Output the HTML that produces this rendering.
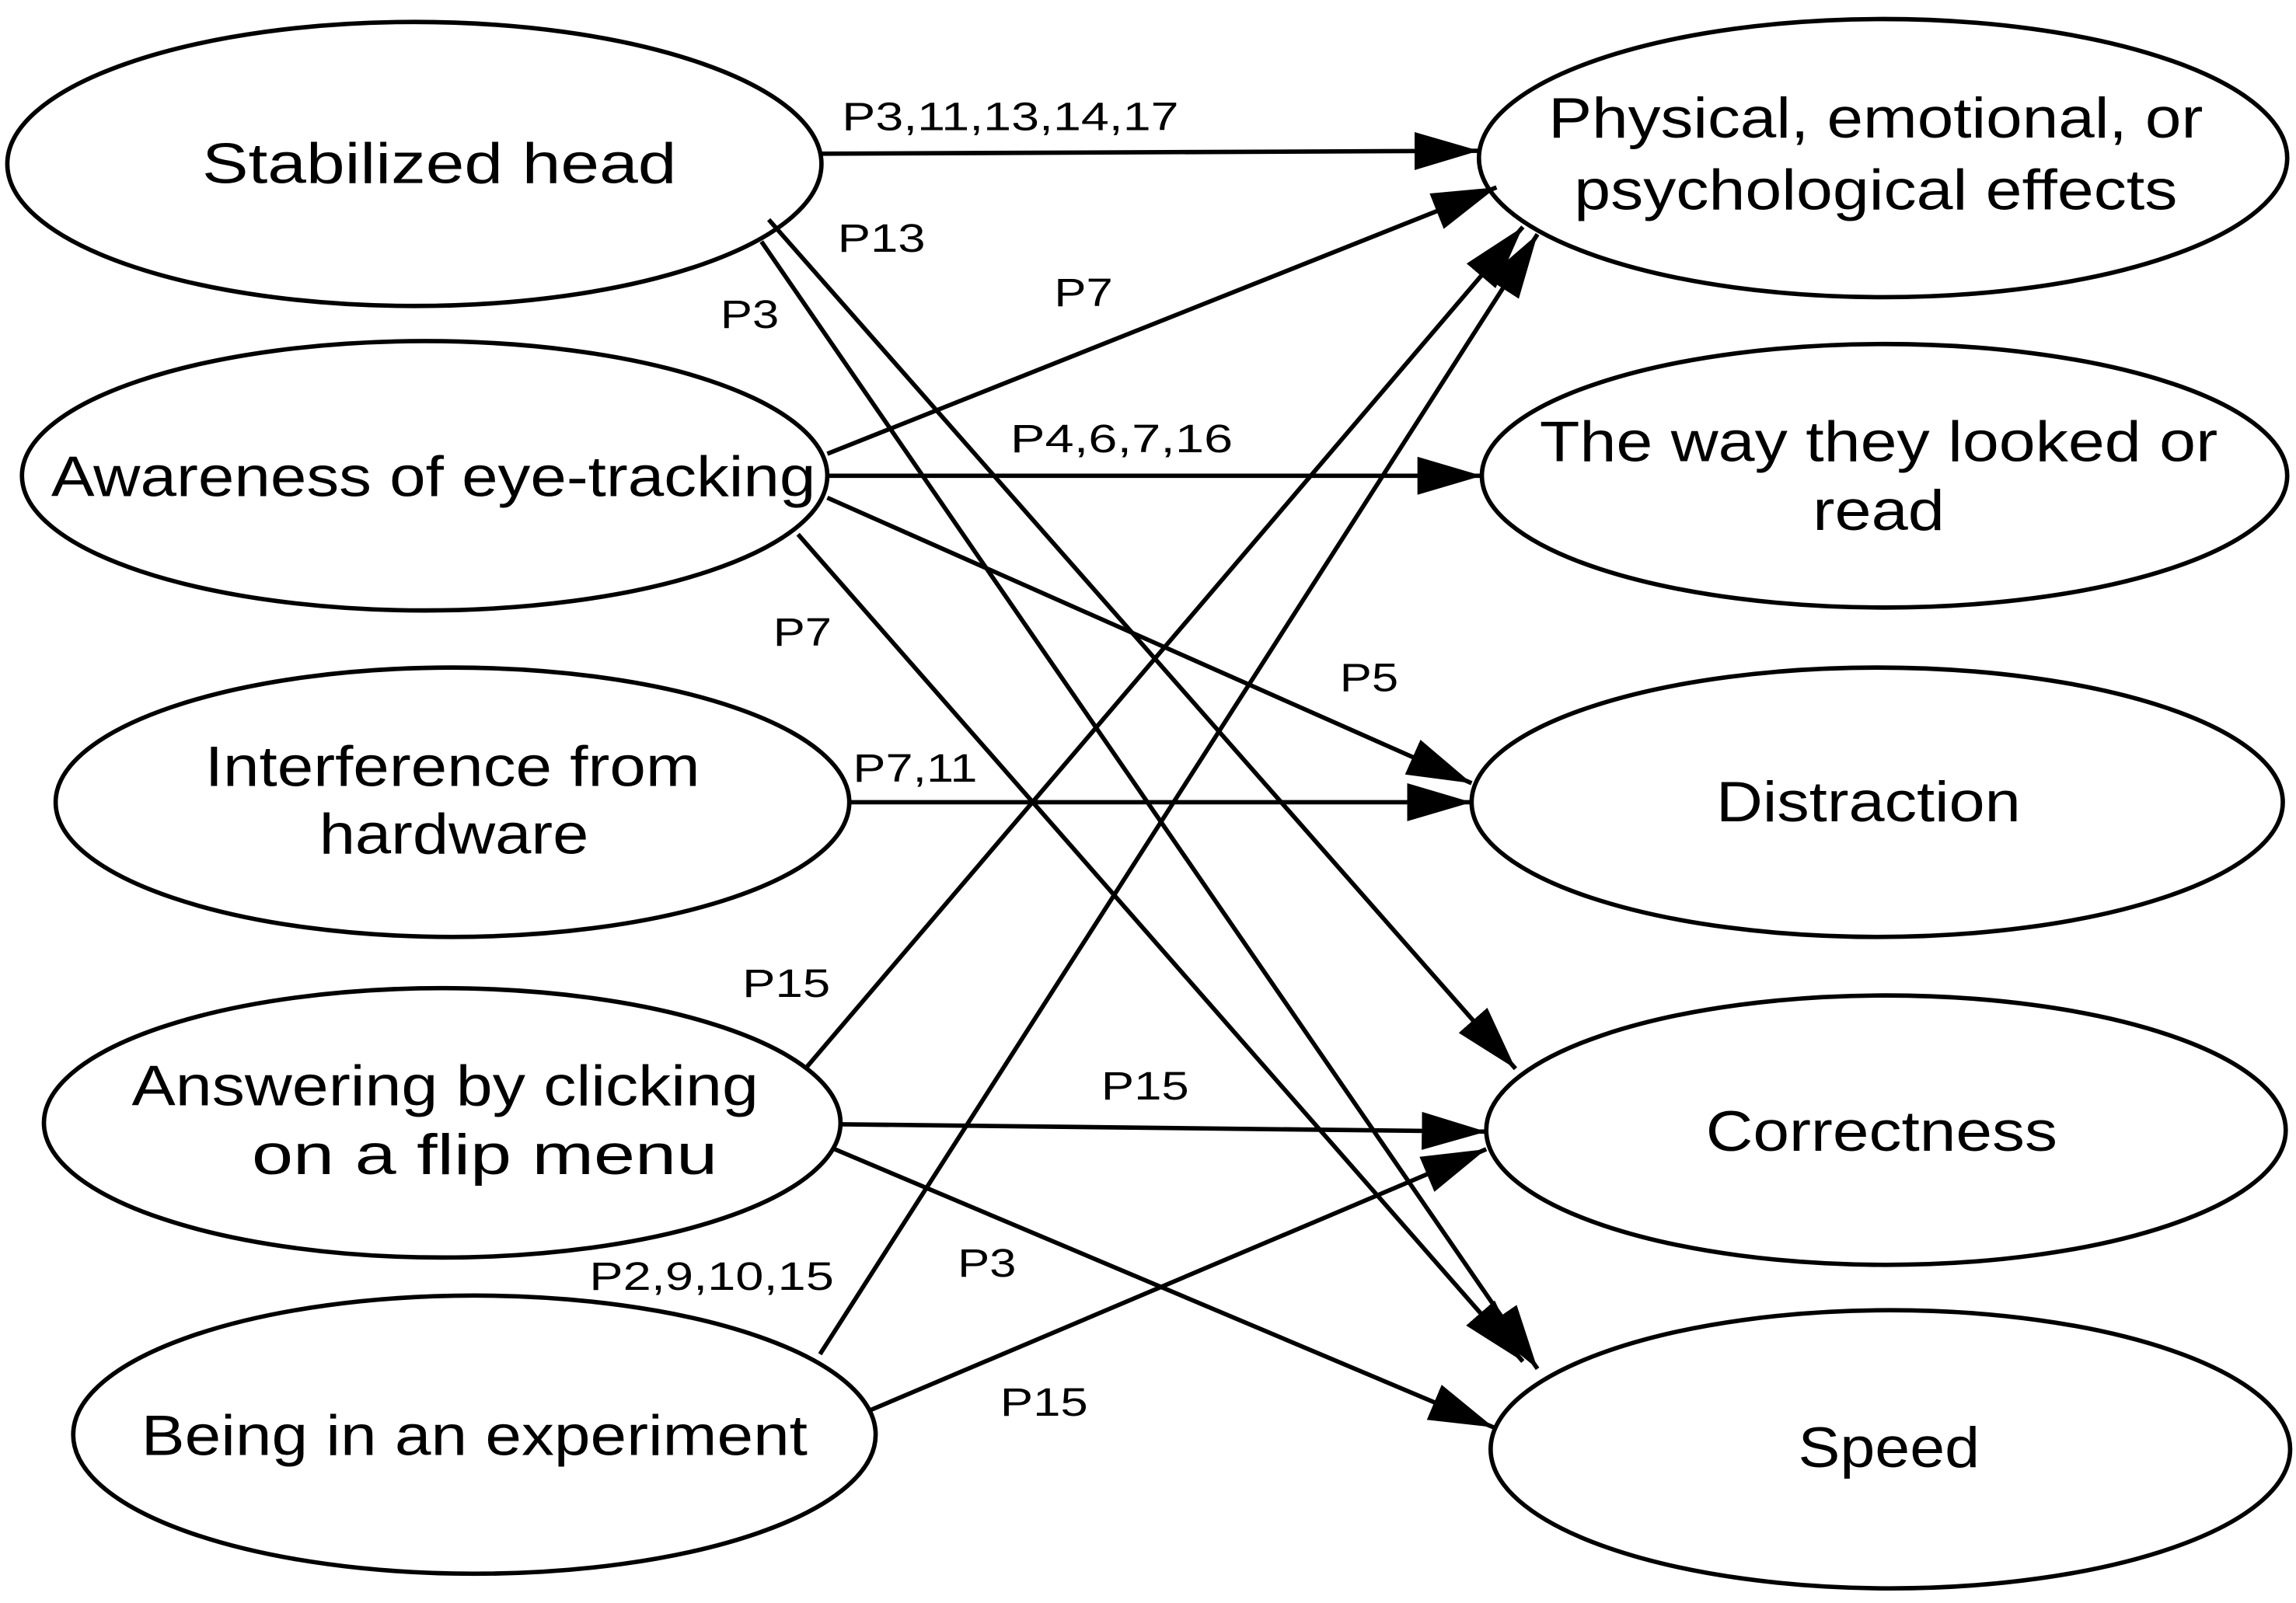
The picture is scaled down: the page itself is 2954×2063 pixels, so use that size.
<!DOCTYPE html>
<html><head><meta charset="utf-8"><style>
html,body{margin:0;padding:0;background:#fff;}
svg{display:block;}
text{font-family:"Liberation Sans",Arial,sans-serif;fill:#000;}
.n{font-size:39px;text-anchor:middle;}
.l{font-size:27px;text-anchor:middle;}
</style></head><body>
<svg width="2954" height="2063" viewBox="0 0 1568 1095" preserveAspectRatio="none" xmlns="http://www.w3.org/2000/svg">
<defs>
<marker id="a" markerUnits="userSpaceOnUse" markerWidth="46" markerHeight="30" refX="44" refY="13" orient="auto">
<path d="M0,0 L44,13 L0,26 z" fill="#000"/>
</marker>
</defs>
<rect width="1568" height="1095" fill="#fff"/>
<g fill="none" stroke="#000" stroke-width="3">
<ellipse cx="283" cy="112" rx="278" ry="97"/>
<ellipse cx="290" cy="325" rx="275" ry="92"/>
<ellipse cx="309" cy="548" rx="271" ry="92"/>
<ellipse cx="302" cy="767" rx="272" ry="92"/>
<ellipse cx="324" cy="980" rx="274" ry="95"/>
<ellipse cx="1286" cy="108" rx="276" ry="95"/>
<ellipse cx="1287" cy="325" rx="275" ry="90"/>
<ellipse cx="1282" cy="548" rx="277" ry="92"/>
<ellipse cx="1288" cy="772" rx="273" ry="92"/>
<ellipse cx="1291" cy="990" rx="273" ry="95"/>
</g>
<g stroke="#000" stroke-width="3" marker-end="url(#a)">
<line x1="560" y1="105" x2="1010" y2="103"/>
<line x1="525" y1="150" x2="1035" y2="730"/>
<line x1="520" y1="165" x2="1050" y2="935"/>
<line x1="565" y1="310" x2="1022" y2="128"/>
<line x1="565" y1="325" x2="1012" y2="325"/>
<line x1="565" y1="340" x2="1005" y2="535"/>
<line x1="545" y1="365" x2="1040" y2="930"/>
<line x1="580" y1="548" x2="1005" y2="548"/>
<line x1="550" y1="730" x2="1040" y2="155"/>
<line x1="575" y1="768" x2="1015" y2="773"/>
<line x1="570" y1="785" x2="1020" y2="975"/>
<line x1="560" y1="925" x2="1050" y2="160"/>
<line x1="595" y1="963" x2="1015" y2="785"/>
</g>
<g lengthAdjust="spacingAndGlyphs">
<text class="n" x="300" y="125" textLength="324" lengthAdjust="spacingAndGlyphs">Stabilized  head</text>
<text class="n" x="296" y="339" textLength="522" lengthAdjust="spacingAndGlyphs">Awareness of eye-tracking</text>
<text class="n" x="309" y="537" textLength="338" lengthAdjust="spacingAndGlyphs">Interference from</text>
<text class="n" x="310" y="583" textLength="184" lengthAdjust="spacingAndGlyphs">hardware</text>
<text class="n" x="304" y="755" textLength="428" lengthAdjust="spacingAndGlyphs">Answering by clicking</text>
<text class="n" x="331" y="802" textLength="318" lengthAdjust="spacingAndGlyphs">on  a  flip  menu</text>
<text class="n" x="324" y="994" textLength="455" lengthAdjust="spacingAndGlyphs">Being in an experiment</text>
<text class="n" x="1281" y="94" textLength="447" lengthAdjust="spacingAndGlyphs">Physical, emotional, or</text>
<text class="n" x="1281" y="143" textLength="412" lengthAdjust="spacingAndGlyphs">psychological effects</text>
<text class="n" x="1283" y="315" textLength="463" lengthAdjust="spacingAndGlyphs">The way they looked or</text>
<text class="n" x="1283" y="362" textLength="90" lengthAdjust="spacingAndGlyphs">read</text>
<text class="n" x="1276" y="561" textLength="208" lengthAdjust="spacingAndGlyphs">Distraction</text>
<text class="n" x="1285" y="786" textLength="240" lengthAdjust="spacingAndGlyphs">Correctness</text>
<text class="n" x="1290" y="1002" textLength="124" lengthAdjust="spacingAndGlyphs">Speed</text>
<text class="l" x="690" y="89" textLength="230" lengthAdjust="spacingAndGlyphs">P3,11,13,14,17</text>
<text class="l" x="602" y="172" textLength="60" lengthAdjust="spacingAndGlyphs">P13</text>
<text class="l" x="512" y="224" textLength="40" lengthAdjust="spacingAndGlyphs">P3</text>
<text class="l" x="740" y="209" textLength="40" lengthAdjust="spacingAndGlyphs">P7</text>
<text class="l" x="766" y="309" textLength="152" lengthAdjust="spacingAndGlyphs">P4,6,7,16</text>
<text class="l" x="935" y="472" textLength="40" lengthAdjust="spacingAndGlyphs">P5</text>
<text class="l" x="548" y="441" textLength="40" lengthAdjust="spacingAndGlyphs">P7</text>
<text class="l" x="625" y="534" textLength="85" lengthAdjust="spacingAndGlyphs">P7,11</text>
<text class="l" x="537" y="681" textLength="60" lengthAdjust="spacingAndGlyphs">P15</text>
<text class="l" x="782" y="751" textLength="60" lengthAdjust="spacingAndGlyphs">P15</text>
<text class="l" x="674" y="872" textLength="40" lengthAdjust="spacingAndGlyphs">P3</text>
<text class="l" x="486" y="881" textLength="167" lengthAdjust="spacingAndGlyphs">P2,9,10,15</text>
<text class="l" x="713" y="967" textLength="60" lengthAdjust="spacingAndGlyphs">P15</text>
</g>
</svg>
</body></html>
